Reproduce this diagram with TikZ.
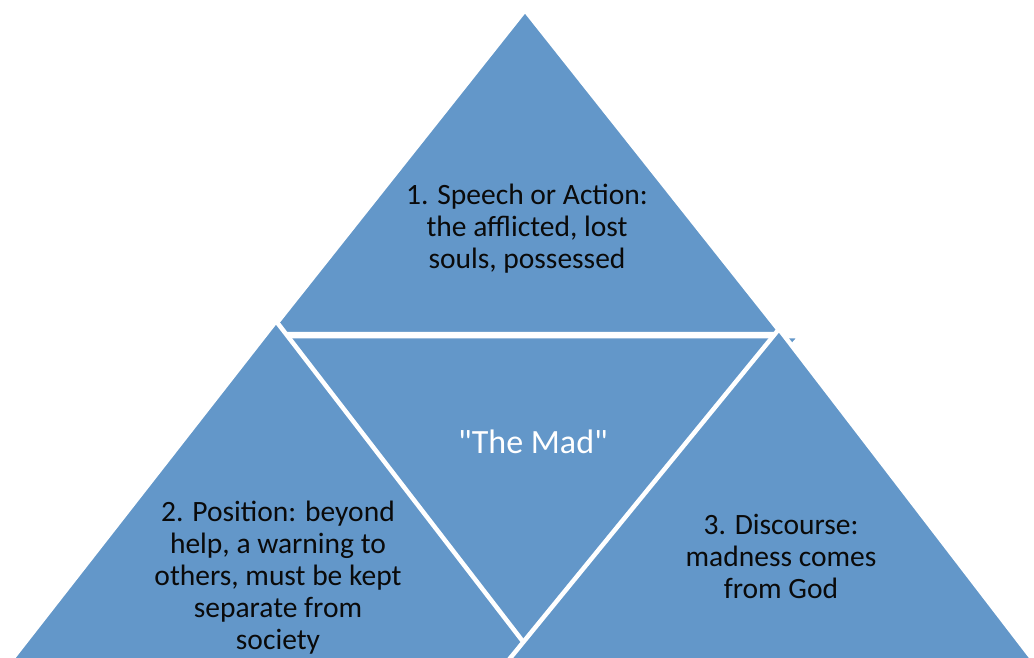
\documentclass[tikz,border=0pt]{standalone}
\usepackage{fontspec}
\setmainfont{Carlito}
% separate family without TeX ligature mapping, so " stays a straight quote
\newfontfamily\plaincarlito{Carlito}
\definecolor{segblue}{RGB}{99,151,201}
\definecolor{segtext}{RGB}{10,10,10}
\begin{document}
\begin{tikzpicture}[x=1pt,y=-1pt,
  segment/.style={fill=segblue,draw=white,line width=4.5pt,line join=miter},
  label/.style={align=center,text=segtext,font=\fontsize{29.5}{32}\selectfont,inner sep=0pt},
  title/.style={align=center,text=white,font=\plaincarlito\fontsize{34}{38}\selectfont,inner sep=0pt}]
\useasboundingbox (0,0) rectangle (1034,658);
\clip (0,0) rectangle (1034,658);
% top segment
\draw[segment] (525,10) -- (268,334) -- (782,334) -- cycle;
% inverted centre segment
\draw[segment] (268,336) -- (801,336) -- (523,643) -- cycle;
% bottom left segment
\draw[segment] (276,321) -- (-20,700) -- (568,700) -- cycle;
% bottom right segment
\draw[segment] (779,329) -- (476,700) -- (1064,700) -- cycle;
% labels
\node[label] (top) at (527,229) {1. Speech or Action:\\the afflicted, lost\\souls, possessed};
\node[title] (mid) at (533,442) {"The Mad"};
\node[label] (left) at (278,578) {2. Position: beyond\\help, a warning to\\others, must be kept\\separate from\\society};
\node[label] (right) at (781,556) {3. Discourse:\\madness comes\\from God};
\end{tikzpicture}
\end{document}
